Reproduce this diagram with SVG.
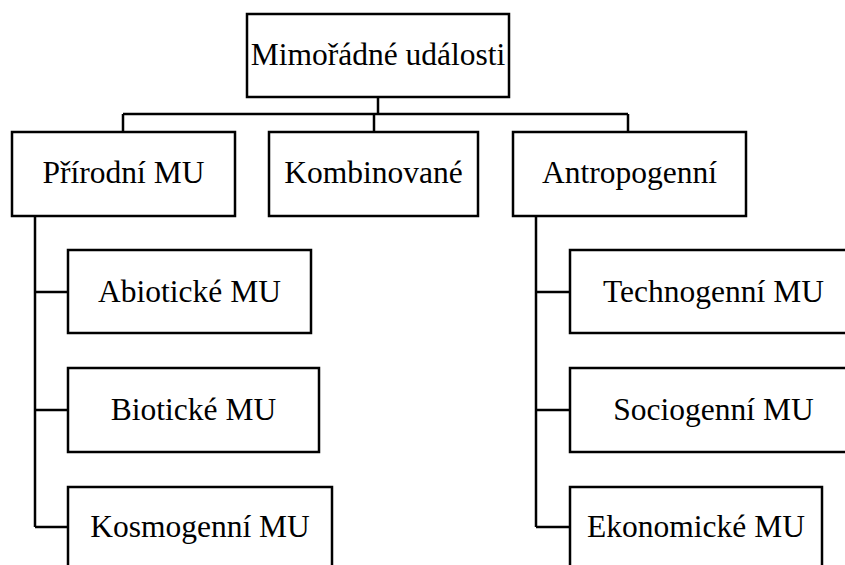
<svg xmlns="http://www.w3.org/2000/svg" width="845" height="565" viewBox="0 0 845 565">
<style>
.box{fill:#fff;stroke:#000;stroke-width:2.5}
.lbl{font-family:'Liberation Serif','Times New Roman',Times,'DejaVu Serif',serif;font-size:31.5px;fill:#000;text-anchor:middle}
.conn{fill:none;stroke:#000;stroke-width:2.5}
</style>
<rect width="845" height="565" fill="#fff"/>
<g id="connectors" class="conn">
<path d="M378,97 V114 M123,114 H628 M123,114 V132 M374,114 V132 M628,114 V132"/>
<path d="M35,216 V527 M35,292 H68 M35,410 H68 M35,527 H68"/>
<path d="M536,216 V527 M536,292 H570 M536,410 H570 M536,527 H570"/>
</g>
<g id="root"><rect class="box" x="247" y="14" width="262" height="83"/><text class="lbl" x="378" y="65" font-family="Liberation Serif">Mimořádné události</text></g>
<g id="prirodni"><rect class="box" x="12" y="132" width="223" height="84"/><text class="lbl" x="123.5" y="183">Přírodní MU</text></g>
<g id="kombinovane"><rect class="box" x="269" y="132" width="209" height="84"/><text class="lbl" x="373.5" y="183">Kombinované</text></g>
<g id="antropogenni"><rect class="box" x="513" y="132" width="233" height="84"/><text class="lbl" x="629.5" y="183">Antropogenní</text></g>
<g id="abioticke"><rect class="box" x="68" y="250" width="243" height="83"/><text class="lbl" x="189.5" y="302">Abiotické MU</text></g>
<g id="bioticke"><rect class="box" x="68" y="368" width="251" height="84"/><text class="lbl" x="193.5" y="420">Biotické MU</text></g>
<g id="kosmogenni"><rect class="box" x="68" y="487" width="264" height="84"/><text class="lbl" x="200" y="537">Kosmogenní MU</text></g>
<g id="technogenni"><rect class="box" x="570" y="250" width="287" height="83"/><text class="lbl" x="713.5" y="302">Technogenní MU</text></g>
<g id="sociogenni"><rect class="box" x="570" y="368" width="287" height="84"/><text class="lbl" x="713.5" y="420">Sociogenní MU</text></g>
<g id="ekonomicke"><rect class="box" x="570" y="487" width="252" height="84"/><text class="lbl" x="696" y="537">Ekonomické MU</text></g>
</svg>
